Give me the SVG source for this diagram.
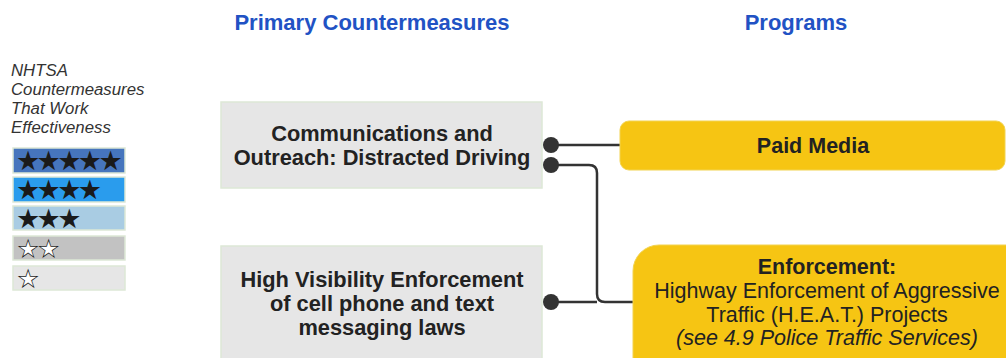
<svg xmlns="http://www.w3.org/2000/svg" width="1006" height="358" viewBox="0 0 1006 358">
<style>
.hdr{font-family:"Liberation Sans",Arial,sans-serif;font-weight:bold;font-size:22px;fill:#2152c4;text-anchor:middle}
.leg{font-family:"Liberation Sans",Arial,sans-serif;font-style:italic;font-size:16.8px;fill:#333}
.bar{stroke:#dde8d6;stroke-width:1.5}
.star{font-family:"DejaVu Sans",sans-serif;font-size:27px;letter-spacing:-3.6px;fill:#1a1a1a}
.wstar{font-family:"DejaVu Sans",sans-serif;font-size:27px;letter-spacing:-3.6px;fill:#fff}
.cm{fill:#e6e6e6;stroke:#dde8d6;stroke-width:1.5}
.cmt{font-family:"Liberation Sans",Arial,sans-serif;font-weight:bold;font-size:21.8px;fill:#222;text-anchor:middle}
.pg{fill:#f6c513;stroke:#f2d350;stroke-width:1}
.pgt{font-family:"Liberation Sans",Arial,sans-serif;font-size:21.5px;fill:#222;text-anchor:middle}
.con{fill:none;stroke:#333;stroke-width:2.5}
.dot{fill:#333}
</style>
<g id="headers">
<text class="hdr" x="372" y="30">Primary Countermeasures</text>
<text class="hdr" x="796" y="30">Programs</text>
</g>
<g id="legend">
<text class="leg" x="11" y="76">NHTSA</text>
<text class="leg" x="11" y="95">Countermeasures</text>
<text class="leg" x="11" y="114">That Work</text>
<text class="leg" x="11" y="133">Effectiveness</text>
<rect class="bar" x="13" y="148" width="112" height="25" fill="#4675bd"/>
<rect class="bar" x="13" y="177" width="112" height="25" fill="#2a9ced"/>
<rect class="bar" x="13" y="206" width="112" height="24" fill="#a9cce3"/>
<rect class="bar" x="13" y="236" width="112" height="24" fill="#c2c2c2"/>
<rect class="bar" x="13" y="266" width="112" height="24" fill="#e6e6e6"/>
<text class="star" x="16" y="170">★★★★★</text>
<text class="star" x="16" y="199">★★★★</text>
<text class="star" x="16" y="228">★★★</text>
<text class="wstar" x="16" y="258">★★</text>
<text class="star" x="16" y="258">☆☆</text>
<text class="wstar" x="16" y="288">★</text>
<text class="star" x="16" y="288">☆</text>
</g>
<g id="connectors">
<line class="con" x1="551" y1="145" x2="621" y2="145"/>
<path class="con" d="M551 165 H589 Q597 165 597 173 V294 Q597 302 605 302 H634"/>
<line class="con" x1="551" y1="302" x2="597" y2="302"/>
<circle class="dot" cx="551" cy="145" r="8"/>
<circle class="dot" cx="551" cy="165" r="8"/>
<circle class="dot" cx="551" cy="302" r="8"/>
</g>
<g id="cm1">
<rect class="cm" x="221" y="102" width="321" height="86"/>
<text class="cmt" x="382" y="141">Communications and</text>
<text class="cmt" x="382" y="165">Outreach: Distracted Driving</text>
</g>
<g id="cm2">
<rect class="cm" x="221" y="246" width="321" height="130"/>
<text class="cmt" x="382" y="287">High Visibility Enforcement</text>
<text class="cmt" x="382" y="311">of cell phone and text</text>
<text class="cmt" x="382" y="335">messaging laws</text>
</g>
<g id="pg1">
<rect class="pg" x="620" y="121" width="385" height="49" rx="9"/>
<text class="pgt" x="813" y="153" font-weight="bold">Paid Media</text>
</g>
<g id="pg2">
<rect class="pg" x="633" y="245" width="400" height="140" rx="26"/>
<text class="pgt" x="827" y="274" font-weight="bold">Enforcement:</text>
<text class="pgt" x="827" y="298">Highway Enforcement of Aggressive</text>
<text class="pgt" x="827" y="322">Traffic (H.E.A.T.) Projects</text>
<text class="pgt" x="827" y="345" font-style="italic">(see 4.9 Police Traffic Services)</text>
</g>
</svg>
